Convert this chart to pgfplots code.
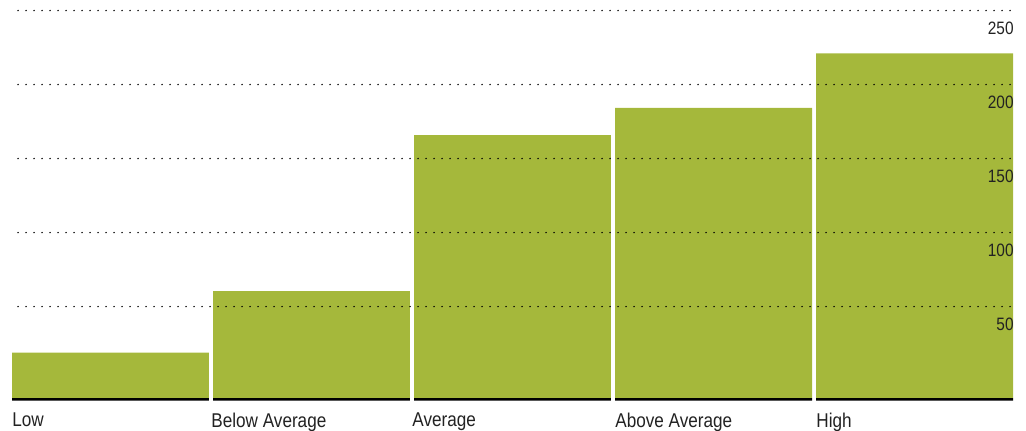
\documentclass[border=0pt]{standalone}
\usepackage{pgfplots}
\pgfplotsset{compat=1.18}
\usepackage{fontspec}
\setmainfont{Liberation Sans}[FakeStretch=0.86]
\definecolor{bargreen}{HTML}{A5B83B}
\definecolor{txt}{HTML}{222222}
\begin{document}
\begin{tikzpicture}
\begin{axis}[
  axis on top,
  scale only axis,
  width=500.5bp, height=197.6bp,
  xmin=-0.49, xmax=4.49,
  ymin=-2, ymax=265,
  axis line style={draw=none},
  tick style={draw=none},
  xtick={-0.49,0.5,1.5,2.51,3.51},
  xticklabels={Low,Below Average,Average,Above Average,High},
  xticklabel style={anchor=north west, inner sep=0pt, yshift=-5.6bp, font=\fontsize{10}{12}\selectfont, text=txt},
  ytick={50,100,150,200,250},
  yticklabel pos=right,
  yticklabel style={anchor=east, inner sep=0pt, xshift=0.5bp, font=\fontsize{9}{11}\selectfont, text=txt},
  /pgf/number format/assume math mode=true,
  clip=false,
]
\addplot[ybar, bar shift=0pt, bar width=0.98, fill=bargreen, draw=none] coordinates {
  (0,30.6) (1,72.3) (2,177.7) (3,196) (4,232.9)
};
\addplot[ybar, bar shift=0pt, bar width=0.98, fill=black, draw=none] coordinates {
  (0,-1.8) (1,-1.8) (2,-1.8) (3,-1.8) (4,-1.8)
};
\pgfplotsinvokeforeach{61.8,111.8,161.8,211.8,261.8}{
  \addplot[black, line width=0.8bp, line cap=round, dash pattern=on 0bp off 4bp, mark=none] coordinates {(-0.46,#1) (4.49,#1)};
}
\end{axis}
\pgfresetboundingbox
\path (current axis.south west) ++(-6bp,-15bp) coordinate (bl);
\path (current axis.north east) ++(6.5bp,2.9bp) coordinate (tr);
\useasboundingbox (bl) rectangle (tr);
\end{tikzpicture}
\end{document}
